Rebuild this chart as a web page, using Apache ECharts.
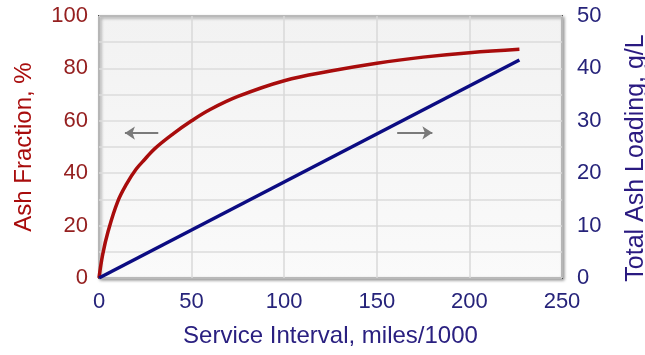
<!DOCTYPE html>
<html>
<head>
<meta charset="utf-8">
<script src="https://cdn.jsdelivr.net/npm/echarts@6/dist/echarts.min.js"></script>
<style>
  html, body { margin: 0; padding: 0; background: #ffffff; }
  #chart { width: 645px; height: 355px; }
</style>
</head>
<body>
<div id="chart"></div>
<script>
// Service interval (miles/1000) and the resulting ash fraction (%) of collected particulate
const ashFractionMiles = [0, 2, 5, 10, 15, 20, 25, 30, 40, 50, 60, 75, 100, 125, 150, 175, 200, 227];
const ashFractionPct   = [0, 9, 18, 29, 36, 41.5, 45.5, 49.3, 55, 60, 64.3, 69.3, 75.3, 79, 82, 84.3, 86, 87.3];

// Total ash loading (g/L) grows linearly with service interval
const ashLoadingMiles = [0, 227];
const ashLoadingGL    = [0, 41.6];

// Direction hints: which axis each curve belongs to
const leftHint  = { from: [32, 55.3], to: [14, 55.3] };   // Ash fraction -> left axis
const rightHint = { from: [161, 27.7], to: [180, 27.7] }; // Ash loading -> right axis

const RED = '#a80c0c';
const BLUE = '#0c0c82';
const FONT = '"Liberation Sans", Arial, sans-serif';

const chart = echarts.init(document.getElementById('chart'), null, { renderer: 'canvas' });

const zip = (xs, ys) => xs.map((x, i) => [x, ys[i]]);

chart.setOption({
  animation: false,
  backgroundColor: '#ffffff',
  grid: {
    left: 99, right: 83, top: 16, bottom: 77,
    containLabel: false,
    outerBoundsMode: 'none',
    show: true,
    backgroundColor: new echarts.graphic.LinearGradient(0, 0, 0, 1, [
      { offset: 0, color: '#f2f2f2' },
      { offset: 1, color: '#fafafa' }
    ]),
    borderColor: '#505050',
    borderWidth: 2,
    shadowColor: 'rgba(0,0,0,0.35)',
    shadowBlur: 3,
    shadowOffsetX: 1.5,
    shadowOffsetY: 1.5
  },
  xAxis: {
    type: 'value', min: 0, max: 250, interval: 50,
    name: 'Service Interval, miles/1000',
    nameLocation: 'middle', nameGap: 46,
    nameTextStyle: { color: '#2a2080', fontSize: 24, fontFamily: FONT },
    axisLine: { show: false },
    axisTick: { show: false },
    axisLabel: { color: '#26237a', fontSize: 22, fontFamily: FONT, margin: 13 },
    splitLine: { show: true, lineStyle: { color: '#d9d9d9', width: 1.5 } }
  },
  yAxis: [
    {
      type: 'value', min: 0, max: 100, interval: 20,
      name: 'Ash Fraction, %',
      nameLocation: 'middle', nameGap: 63, nameRotate: 90,
      nameTextStyle: { color: RED, fontSize: 24, fontFamily: FONT },
      axisLine: { show: false },
      axisTick: { show: false },
      axisLabel: { color: '#952020', fontSize: 22, fontFamily: FONT, margin: 11 },
      splitLine: { show: true, lineStyle: { color: '#dcdcdc', width: 1.5 } },
      minorTick: { show: false, splitNumber: 2 },
      minorSplitLine: { show: true, lineStyle: { color: '#dcdcdc', width: 1.5 } }
    },
    {
      type: 'value', min: 0, max: 50, interval: 10,
      name: 'Total Ash Loading, g/L',
      nameLocation: 'middle', nameGap: 62, nameRotate: 90,
      nameTextStyle: { color: '#2a1a80', fontSize: 25, fontFamily: FONT, padding: [0, 22, 0, 0] },
      axisLine: { show: false },
      axisTick: { show: false },
      axisLabel: { color: '#26237a', fontSize: 22, fontFamily: FONT, margin: 15 },
      splitLine: { show: false }
    }
  ],
  series: [
    {
      name: 'Ash Fraction',
      type: 'line',
      yAxisIndex: 0,
      data: zip(ashFractionMiles, ashFractionPct),
      smooth: 0.4,
      showSymbol: false,
      lineStyle: { color: RED, width: 3.5 },
      markLine: {
        silent: true,
        symbol: ['none', 'arrow'],
        symbolSize: [10, 10],
        label: { show: false },
        lineStyle: { color: '#7a7a7a', width: 2, type: 'solid' },
        data: [[{ coord: leftHint.from }, { coord: leftHint.to }]]
      }
    },
    {
      name: 'Total Ash Loading',
      type: 'line',
      yAxisIndex: 1,
      data: zip(ashLoadingMiles, ashLoadingGL),
      showSymbol: false,
      lineStyle: { color: BLUE, width: 3.5 },
      markLine: {
        silent: true,
        symbol: ['none', 'arrow'],
        symbolSize: [10, 10],
        label: { show: false },
        lineStyle: { color: '#7a7a7a', width: 2, type: 'solid' },
        data: [[{ coord: rightHint.from }, { coord: rightHint.to }]]
      }
    }
  ]
});
</script>
</body>
</html>
